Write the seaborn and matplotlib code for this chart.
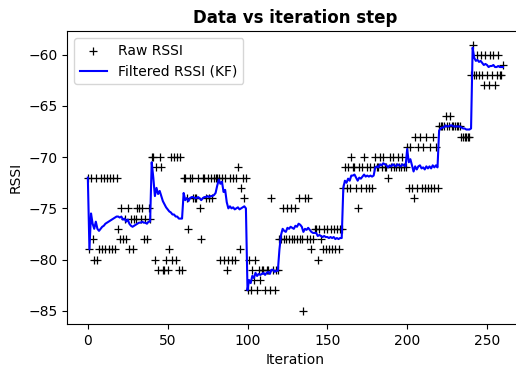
import numpy as np
import pandas as pd
import matplotlib
matplotlib.use("Agg")
import matplotlib.pyplot as plt
import seaborn as sns

# Raw RSSI readings, one per iteration step (0..260)
raw_rssi = [
    -72, -79, -72, -78, -80, -72, -80, -79, -72, -79,
    -72, -79, -72, -79, -72, -79, -72, -79, -72, -77,
    -78, -75, -78, -76, -78, -75, -79, -76, -79, -76,
    -76, -75, -75, -76, -75, -78, -76, -78, -75, -76,
    -70, -70, -80, -71, -81, -70, -71, -81, -81, -80,
    -81, -79, -70, -80, -70, -80, -70, -81, -70, -81,
    -72, -72, -74, -77, -72, -72, -74, -74, -74, -72,
    -75, -78, -72, -72, -74, -72, -74, -72, -74, -72,
    -72, -72, -72, -80, -72, -80, -72, -81, -80, -72,
    -80, -72, -80, -72, -71, -79, -73, -72, -74, -72,
    -83, -80, -83, -81, -82, -80, -83, -81, -82, -81,
    -81, -83, -81, -81, -83, -74, -81, -83, -81, -81,
    -78, -78, -75, -78, -78, -75, -78, -75, -78, -78,
    -75, -78, -74, -78, -78, -85, -74, -78, -74, -78,
    -79, -78, -77, -77, -80, -77, -78, -79, -77, -79,
    -77, -79, -77, -79, -77, -79, -77, -79, -77, -77,
    -73, -71, -73, -71, -73, -70, -71, -71, -73, -75,
    -71, -73, -71, -70, -73, -71, -73, -71, -73, -71,
    -70, -71, -71, -70, -71, -70, -71, -71, -72, -70,
    -71, -70, -71, -71, -70, -71, -71, -70, -71, -71,
    -69, -73, -69, -73, -74, -68, -73, -69, -68, -73,
    -69, -73, -68, -73, -69, -73, -68, -73, -69, -73,
    -67, -67, -67, -67, -66, -67, -67, -66, -67, -67,
    -67, -67, -67, -67, -68, -68, -68, -68, -68, -68,
    -62, -59, -62, -62, -60, -62, -60, -62, -63, -60,
    -62, -63, -60, -62, -60, -63, -62, -60, -62, -62,
    -61,
]

# Kalman-filtered RSSI estimate for the same steps
filtered_rssi = [
    -72.0, -79.0, -75.5, -76.5, -77.0, -76.3, -77.0, -77.2, -77.0, -76.8,
    -76.7, -76.5, -76.4, -76.3, -76.2, -76.1, -76.0, -75.9, -75.8, -75.8,
    -75.9, -75.8, -76.1, -76.0, -76.3, -76.1, -76.5, -76.7, -76.8, -76.7,
    -76.6, -76.5, -76.4, -76.4, -76.3, -76.4, -76.4, -76.5, -76.3, -76.3,
    -70.5, -72.0, -73.8, -73.0, -73.6, -73.3, -73.8, -74.3, -74.6, -74.9,
    -75.1, -75.3, -75.4, -75.6, -75.6, -75.8, -75.8, -76.0, -76.0, -76.0,
    -73.5, -74.2, -74.0, -74.3, -74.0, -73.9, -73.9, -74.0, -74.0, -73.9,
    -74.0, -74.2, -74.0, -73.9, -73.9, -73.8, -73.9, -73.8, -73.8, -73.7,
    -73.5, -72.8, -72.2, -72.6, -72.4, -73.4, -73.2, -74.4, -75.0, -74.8,
    -75.0, -74.9, -75.1, -75.0, -74.9, -75.1, -75.0, -74.9, -74.8, -75.0,
    -83.0, -82.0, -82.3, -81.6, -81.8, -81.3, -81.6, -81.4, -81.5, -81.4,
    -81.3, -81.5, -81.3, -81.2, -81.4, -81.0, -81.0, -81.2, -81.1, -81.1,
    -79.0, -77.6, -77.0, -77.2, -77.3, -76.9, -77.0, -76.8, -76.9, -77.0,
    -76.7, -76.8, -76.5, -76.6, -76.8, -77.3, -77.0, -77.1, -76.9, -77.1,
    -77.3, -77.4, -77.4, -77.4, -77.7, -77.6, -77.7, -77.8, -77.7, -77.8,
    -77.8, -77.9, -77.8, -77.9, -77.8, -78.0, -77.9, -78.0, -77.9, -77.9,
    -73.0, -72.3, -72.5, -72.1, -72.3, -71.8, -71.8, -71.7, -72.0, -72.3,
    -72.0, -72.1, -71.9, -71.7, -71.9, -71.8, -71.9, -71.8, -71.9, -71.8,
    -71.0, -70.9, -71.0, -70.7, -70.8, -70.6, -70.7, -70.8, -71.0, -70.8,
    -70.9, -70.7, -70.8, -70.9, -70.7, -70.8, -70.9, -70.7, -70.8, -70.9,
    -69.2, -70.5, -70.2, -70.8, -71.4, -70.9, -71.2, -70.9, -70.8, -71.1,
    -71.0, -71.2, -70.9, -71.1, -70.9, -71.1, -70.8, -71.0, -70.8, -71.0,
    -67.4, -67.2, -67.1, -67.1, -66.9, -67.0, -67.0, -66.9, -66.9, -67.0,
    -67.0, -67.0, -67.0, -67.0, -67.1, -67.2, -67.2, -67.3, -67.3, -67.3,
    -67.2, -59.3, -60.3, -60.6, -60.5, -60.7, -60.6, -60.8, -61.0, -60.9,
    -61.0, -61.2, -61.1, -61.1, -61.0, -61.2, -61.2, -61.1, -61.2, -61.2,
    -61.2,
]

iterations = np.arange(len(raw_rssi))

df = pd.DataFrame({
    "Iteration": iterations,
    "raw": raw_rssi,
    "filtered": filtered_rssi,
})

fig = plt.figure(figsize=(5.16, 3.67), dpi=100)
ax = fig.add_axes([0.130, 0.117, 0.885, 0.798])

sns.scatterplot(data=df, x="Iteration", y="raw", ax=ax, marker="+",
                color="black", s=30, linewidth=0.9, label="Raw RSSI", zorder=2)
sns.lineplot(data=df, x="Iteration", y="filtered", ax=ax, color="blue",
             linewidth=1.5, label="Filtered RSSI (KF)", zorder=3)

ax.set_xlim(-13, 273)
ax.set_ylim(-86.3, -57.7)
ax.set_xticks([0, 50, 100, 150, 200, 250])
ax.set_yticks([-85, -80, -75, -70, -65, -60])
ax.set_xlabel("Iteration", fontsize=10)
ax.set_ylabel("RSSI", fontsize=10)
ax.set_title("Data vs iteration step", fontsize=12, fontweight="bold")
ax.tick_params(labelsize=10)
ax.legend(loc="upper left", fontsize=10)

fig.savefig("out.png", dpi=100)
